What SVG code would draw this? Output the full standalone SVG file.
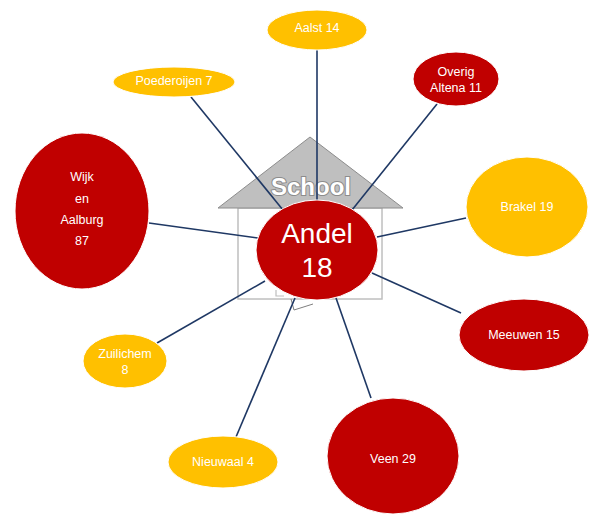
<svg xmlns="http://www.w3.org/2000/svg" width="593" height="515" viewBox="0 0 593 515">
<style>
.red{fill:#C00000;stroke:#ffffff;stroke-width:1}
.yel{fill:#FFC000;stroke:#ffffff;stroke-width:1}
.lbl{font-family:"Liberation Sans",Arial,sans-serif;font-size:12.5px;fill:#ffffff;text-anchor:middle;dominant-baseline:central}
.con line{stroke:#1F3864;stroke-width:1.6}
</style>
<rect width="593" height="515" fill="#ffffff"/>
<g id="house">
<rect x="238" y="208" width="144" height="91" fill="#ffffff" stroke="#BFBFBF" stroke-width="1.5"/>
<polygon points="310,137 218,208 403,208" fill="#BFBFBF" stroke="#8C8C8C" stroke-width="1"/>
<polyline points="276,290 276,296 284,296" fill="none" stroke="#BFBFBF" stroke-width="1.2"/>
<polyline points="291,299 294,310 313,304" fill="none" stroke="#7F7F7F" stroke-width="1"/>
<text x="311" y="195" font-family="'Liberation Sans',Arial,sans-serif" font-size="24" font-weight="bold" fill="#ffffff" stroke="#8C8C8C" stroke-width="2" paint-order="stroke" text-anchor="middle">School</text>
</g>
<g id="connectors" class="con">
<line x1="317" y1="50" x2="317" y2="212"/>
<line x1="191" y1="97" x2="283" y2="210"/>
<line x1="437" y1="104" x2="352" y2="210"/>
<line x1="149" y1="223" x2="258" y2="238"/>
<line x1="466" y1="218" x2="377" y2="237"/>
<line x1="461" y1="313" x2="372" y2="273"/>
<line x1="157" y1="343" x2="265" y2="281"/>
<line x1="236" y1="437" x2="295" y2="298"/>
<line x1="371" y1="398" x2="336" y2="298"/>
</g>
<g id="andel">
<ellipse class="red" cx="317" cy="250" rx="61" ry="50" stroke-width="1.5"/>
<text x="317" y="233" font-family="'Liberation Sans',Arial,sans-serif" font-size="28" fill="#ffffff" text-anchor="middle" dominant-baseline="central">Andel</text>
<text x="317" y="267" font-family="'Liberation Sans',Arial,sans-serif" font-size="28" fill="#ffffff" text-anchor="middle" dominant-baseline="central">18</text>
</g>
<g id="aalst">
<ellipse class="yel" cx="317" cy="30" rx="50" ry="20"/>
<text class="lbl" x="317" y="28">Aalst 14</text>
</g>
<g id="overig-altena">
<ellipse class="red" cx="456" cy="79" rx="43" ry="27"/>
<text class="lbl" x="456" y="72">Overig</text>
<text class="lbl" x="456" y="88">Altena 11</text>
</g>
<g id="poederoijen">
<ellipse class="yel" cx="174" cy="82" rx="61" ry="15"/>
<text class="lbl" x="174" y="81">Poederoijen 7</text>
</g>
<g id="wijk-en-aalburg">
<ellipse class="red" cx="82" cy="211" rx="67" ry="78"/>
<text class="lbl" x="82" y="177">Wijk</text>
<text class="lbl" x="82" y="199">en</text>
<text class="lbl" x="82" y="220">Aalburg</text>
<text class="lbl" x="82" y="241">87</text>
</g>
<g id="brakel">
<ellipse class="yel" cx="527" cy="207" rx="61" ry="50"/>
<text class="lbl" x="527" y="207">Brakel 19</text>
</g>
<g id="meeuwen">
<ellipse class="red" cx="524" cy="335" rx="65" ry="36"/>
<text class="lbl" x="524" y="335">Meeuwen 15</text>
</g>
<g id="zuilichem">
<ellipse class="yel" cx="125" cy="361" rx="42" ry="27"/>
<text class="lbl" x="125" y="354">Zuilichem</text>
<text class="lbl" x="125" y="370">8</text>
</g>
<g id="nieuwaal">
<ellipse class="yel" cx="223" cy="462" rx="55" ry="26"/>
<text class="lbl" x="223" y="462">Nieuwaal 4</text>
</g>
<g id="veen">
<ellipse class="red" cx="393" cy="456" rx="66" ry="58"/>
<text class="lbl" x="393" y="459">Veen 29</text>
</g>
</svg>
